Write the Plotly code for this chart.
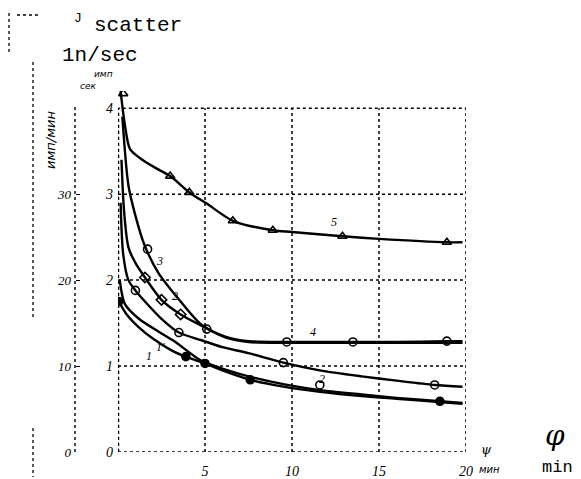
import plotly.graph_objects as go

# ---------------- data ----------------
x5 = [0.15, 0.4, 0.7, 1.4, 2.2, 3.0, 4.1, 5.1, 6.6, 8.9, 10.0, 12.9, 15.0, 18.9, 19.8]
y5 = [4.2, 3.8, 3.52, 3.4, 3.3, 3.21, 3.02, 2.89, 2.69, 2.58, 2.56, 2.51, 2.48, 2.44, 2.44]

x4 = [0.25, 0.6, 1.0, 1.5, 2.3, 3.4, 4.8, 6.2, 7.5, 9.7, 13.5, 16.0, 18.9, 19.8]
y4 = [3.9, 3.1, 2.75, 2.42, 2.09, 1.8, 1.48, 1.34, 1.29, 1.28, 1.28, 1.28, 1.29, 1.29]

x3 = [0.2, 0.35, 0.6, 1.0, 1.55, 2.5, 3.6, 4.8, 6.2, 7.5, 9.7, 13.5, 19.8]
y3 = [3.4, 2.8, 2.38, 2.2, 2.03, 1.77, 1.6, 1.47, 1.33, 1.28, 1.27, 1.27, 1.27]

x2 = [0.15, 0.3, 0.6, 1.0, 1.6, 2.5, 3.5, 4.8, 6.0, 7.5, 9.5, 11.6, 14.0, 16.0, 18.2, 19.8]
y2 = [2.9, 2.3, 2.0, 1.88, 1.74, 1.55, 1.39, 1.3, 1.22, 1.15, 1.04, 0.95, 0.88, 0.83, 0.78, 0.76]

x1p = [0.1, 0.4, 1.2, 2.5, 3.3, 4.8, 6.0, 7.5, 9.5, 11.6, 14.0, 16.0, 18.5, 19.8]
y1p = [2.0, 1.72, 1.55, 1.38, 1.28, 1.06, 0.97, 0.88, 0.79, 0.72, 0.67, 0.63, 0.59, 0.57]

x1 = [0.05, 0.5, 1.2, 2.0, 3.1, 4.0, 5.0, 6.0, 7.6, 9.5, 11.6, 14.0, 16.0, 18.5, 19.8]
y1 = [1.75, 1.6, 1.45, 1.32, 1.18, 1.1, 1.03, 0.95, 0.84, 0.76, 0.7, 0.65, 0.62, 0.58, 0.56]

# measured points (markers)
p5x = [0.3, 3.0, 4.1, 6.6, 8.9, 12.9, 18.9]
p5y = [4.17, 3.21, 3.02, 2.69, 2.58, 2.51, 2.44]
p4x = [1.7, 5.1, 9.7, 13.5, 18.9]
p4y = [2.36, 1.43, 1.28, 1.28, 1.29]
p3x = [1.55, 2.5, 3.6]
p3y = [2.03, 1.77, 1.6]
p2x = [1.0, 3.5, 9.5, 11.6, 18.2]
p2y = [1.88, 1.39, 1.04, 0.78, 0.78]
p1x = [0.05, 3.9, 5.0, 7.6, 18.5]
p1y = [1.75, 1.11, 1.03, 0.84, 0.59]

# curve labels
lab_text = ["5", "4", "2", "3", "2", "1", "1'"]
lab_x = [12.4, 11.2, 11.7, 2.4, 3.3, 1.8, 2.45]
lab_y = [2.68, 1.4, 0.85, 2.22, 1.82, 1.12, 1.22]

x_ticks = [5, 10, 15, 20]
x_tick_text = ["5", "10", "15", "20"]
y_ticks = [0, 1, 2, 3, 4]
y2_ticks = [0, 10, 20, 30]
grid_x = [5, 10, 15]
grid_y = [1, 2, 3]

# ---------------- figure ----------------
W, H = 581, 479
L, R, T, B = 60, 115, 91, 27
PW, PH = W - L - R, H - T - B


def px(xp):
    return (xp - L) / PW


def py(yp):
    return (H - B - yp) / PH


fig = go.Figure()

line_sets = [(x5, y5), (x4, y4), (x3, y3), (x2, y2), (x1p, y1p), (x1, y1)]
for xs, ys in line_sets:
    fig.add_trace(go.Scatter(x=xs, y=ys, mode="lines",
                             line=dict(color="black", width=2.4, shape="spline", smoothing=0.8),
                             hoverinfo="skip", showlegend=False))

mk_sets = [(p5x, p5y, "triangle-up-open"), (p4x, p4y, "circle-open"),
           (p3x, p3y, "diamond-open"), (p2x, p2y, "circle-open"), (p1x, p1y, "circle")]
for xs, ys, sym in mk_sets:
    fig.add_trace(go.Scatter(x=xs, y=ys, mode="markers",
                             marker=dict(symbol=sym, size=8, color="black",
                                         line=dict(color="black", width=1.6)),
                             hoverinfo="skip", showlegend=False))

# empty trace so the secondary (x10) scale is drawn
fig.add_trace(go.Scatter(x=[], y=[], yaxis="y2", mode="lines", showlegend=False,
                         hoverinfo="skip"))

# grid and frame (dotted, like the scan)
dot = dict(color="black", width=1.5, dash="dot")
for gx in grid_x:
    fig.add_shape(type="line", x0=gx, x1=gx, y0=0, y1=4, xref="x", yref="y", line=dot)
for gy in grid_y:
    fig.add_shape(type="line", x0=0, x1=20, y0=gy, y1=gy, xref="x", yref="y", line=dot)
fig.add_shape(type="rect", x0=0, x1=20, y0=0, y1=4, xref="x", yref="y", line=dot)
fig.add_shape(type="line", x0=0, x1=0, y0=0, y1=4, xref="x", yref="y",
              line=dict(color="black", width=2.5, dash="dot"))

# secondary axis line and scan marks
fig.add_shape(type="line", x0=px(75), x1=px(75), y0=py(452), y1=py(106), xref="paper", yref="paper",
              line=dict(color="black", width=1.4, dash="dot"))
fig.add_shape(type="line", x0=px(33), x1=px(33), y0=py(62), y1=py(318), xref="paper", yref="paper",
              line=dict(color="black", width=1.3, dash="dot"))
fig.add_shape(type="line", x0=px(33), x1=px(33), y0=py(428), y1=py(477), xref="paper", yref="paper",
              line=dict(color="black", width=1.3, dash="dot"))
fig.add_shape(type="line", x0=px(9), x1=px(9), y0=py(13), y1=py(52), xref="paper", yref="paper",
              line=dict(color="black", width=1.3, dash="dot"))
fig.add_shape(type="line", x0=px(17), x1=px(40), y0=py(15), y1=py(15), xref="paper", yref="paper",
              line=dict(color="black", width=1.3, dash="dot"))

tick_font = dict(family="Liberation Serif", size=14, color="black", style="italic")

for t, xx, yy in zip(lab_text, lab_x, lab_y):
    fig.add_annotation(x=xx, y=yy, xref="x", yref="y", text=t, showarrow=False,
                       xanchor="center", yanchor="middle",
                       font=dict(family="Liberation Serif", size=12, color="black", style="italic"))

mono = "Liberation Mono"
texts = [
    ("J", 78, 19, 13, mono, "normal", 0),
    ("scatter", 138, 26, 21, mono, "normal", 0),
    ("1n/sec", 100, 55, 21, mono, "normal", 0),
    ("имп", 103, 74, 9, "DejaVu Sans", "italic", 0),
    ("сек", 88, 86, 9, "DejaVu Sans", "italic", 0),
    ("имп/мин", 50, 140, 13, "DejaVu Sans", "italic", -90),
    ("ψ", 486, 449, 13, "DejaVu Serif", "italic", 0),
    ("мин", 490, 469, 10, "DejaVu Sans", "italic", 0),
    ("φ", 555, 435, 28, "DejaVu Serif", "italic", 0),
    ("min", 557, 467, 17, mono, "normal", 0),
]
for t, xp, yp, sz, fam, sty, ang in texts:
    fig.add_annotation(x=px(xp), y=py(yp), xref="paper", yref="paper", text=t,
                       showarrow=False, textangle=ang, xanchor="center", yanchor="middle",
                       font=dict(family=fam, size=sz, color="black", style=sty))

fig.update_layout(
    width=W, height=H,
    margin=dict(l=L, r=R, t=T, b=B, pad=0, autoexpand=False),
    paper_bgcolor="white", plot_bgcolor="white",
    showlegend=False, hovermode=False,
    xaxis=dict(domain=[px(118), 1], range=[0, 20], showgrid=False, zeroline=False,
               showline=False, tickvals=x_ticks, ticktext=x_tick_text, ticks="",
               tickfont=tick_font, ticklabelstandoff=9, automargin=False, fixedrange=True),
    yaxis=dict(range=[0, 4.2], showgrid=False, zeroline=False, showline=False,
               tickvals=y_ticks, ticks="", tickfont=tick_font, ticklabelstandoff=4,
               automargin=False, fixedrange=True),
    yaxis2=dict(overlaying="y", anchor="free", position=px(75), side="left",
                range=[0, 42], tickvals=y2_ticks, ticks="inside", ticklen=4,
                tickcolor="black", showgrid=False, zeroline=False, showline=False,
                tickfont=dict(family="Liberation Serif", size=13, color="black", style="italic"),
                ticklabelstandoff=4, automargin=False, fixedrange=True),
)

fig.write_html("out.html", config={"displayModeBar": False},
               post_script="document.body.style.margin='0';")
